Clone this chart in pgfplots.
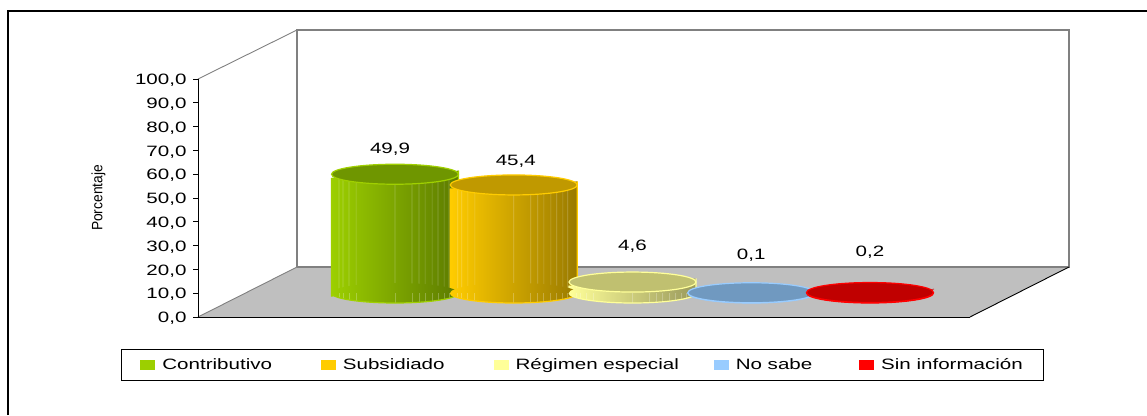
\documentclass[border=0pt]{standalone}
\usepackage{fontspec}
\setmainfont[FakeStretch=1.37]{Liberation Sans}
\newfontfamily\ylabfont[FakeStretch=0.92]{Liberation Sans}
\usepackage{pgfplots}
\usepackage{pgfplotstable}
\pgfplotsset{compat=1.18}

\definecolor{gL}{HTML}{9CCF00}\definecolor{gR}{HTML}{5C7A00}\definecolor{gT}{HTML}{6F9600}\definecolor{gE}{HTML}{A0D000}
\definecolor{oL}{HTML}{FFCC00}\definecolor{oR}{HTML}{997A00}\definecolor{oT}{HTML}{C09900}\definecolor{oE}{HTML}{FFCC00}
\definecolor{yL}{HTML}{FFFF99}\definecolor{yR}{HTML}{99995C}\definecolor{yT}{HTML}{C0C070}\definecolor{yE}{HTML}{FFFF99}
\definecolor{bL}{HTML}{99CCFF}\definecolor{bR}{HTML}{5C7A99}\definecolor{bT}{HTML}{7099C0}\definecolor{bE}{HTML}{99CCFF}
\definecolor{rL}{HTML}{FF0000}\definecolor{rR}{HTML}{990000}\definecolor{rT}{HTML}{C00000}\definecolor{rE}{HTML}{FF0000}

% cylinder ends, drawn as plot marks
\newcommand{\newcylmarks}[1]{%
  \pgfdeclareplotmark{cylbot#1}{%
    \shade[draw=none, rotate=3.2, left color=#1L, right color=#1R] (0pt,0pt) ellipse [x radius=63.5pt, y radius=10pt];
    \foreach \dx in {-56,-52,-46,-39,0,17,24,30,37,43,49,54}
      \draw[rotate=3.2, white, opacity=.25, line width=.6pt] (\dx pt,0pt) -- ({\dx*1pt},{-10pt*sqrt(1-(\dx/63.5)^2)});
    \draw[rotate=3.2, #1E, line width=1.2pt] (-63.5pt,0pt) arc [start angle=180, end angle=360, x radius=63.5pt, y radius=10pt];
  }%
  \pgfdeclareplotmark{cyltop#1}{%
    \filldraw[rotate=3.2, fill=#1T, draw=#1E, line width=1.2pt] (0pt,0pt) ellipse [x radius=63.5pt, y radius=10pt];
  }%
}
\newcylmarks{g}\newcylmarks{o}\newcylmarks{y}\newcylmarks{b}\newcylmarks{r}

\pgfplotstableread{
dx n
-0.472 1
-0.438 2
-0.387 3
-0.328 4
0 5
0.143 6
0.202 7
0.253 8
0.312 9
0.362 10
0.413 11
0.455 12
}\stripes

% #1 category, #2 value, #3 centre in px, #4 colour prefix, #5 label dx, #6 label dy
\newcommand{\cylinder}[6]{%
  \addplot[only marks, mark=cylbot#4, mark options={draw=none}, yshift=24pt, forget plot] coordinates {(#1,0)};
  \addplot[ybar, bar width=127pt, draw=none, shade, left color=#4L, right color=#4R,
    yslant=0.056, yshift={(24-0.056*(#3-198))*1pt}, forget plot] coordinates {(#1,#2)};
  \addplot[ybar, bar width=.6pt, draw=none, fill=white, fill opacity=.25,
    yslant=0.056, yshift={(24-0.056*(#3-198))*1pt}, forget plot]
    table[x expr=#1+\thisrow{dx}, y expr=#2] {\stripes};
  \addplot[ybar, bar width=1.2pt, draw=none, fill=#4E,
    yslant=0.056, yshift={(24-0.056*(#3-198))*1pt}, forget plot]
    coordinates {(#1-0.535,#2) (#1+0.535,#2)};
  \addplot[only marks, mark=cyltop#4, yshift=24pt, forget plot,
    nodes near coords, point meta=y,
    every node near coord/.style={anchor=center, xshift=#5pt, yshift=#6pt, text=black, font=\fontsize{15}{15}\selectfont,
      /pgf/number format/.cd, fixed, fixed zerofill, precision=1, use comma, assume math mode=true}]
    coordinates {(#1,#2)};
}

\begin{document}
\begin{tikzpicture}
\path[use as bounding box] (0,0) rectangle (1147pt,415pt);
\draw[black, line width=2pt] (8pt,0pt) -- (8pt,404pt) -- (1147pt,404pt);
% floor and walls of the 3D box
\fill[fill=black!25] (198pt,98pt) -- (297pt,148pt) -- (1069pt,148pt) -- (970pt,98pt) -- cycle;
\draw[black!50, line width=1.4pt] (297pt,148pt) -- (297pt,385pt) -- (1069pt,385pt) -- (1069pt,148pt) -- (297pt,148pt);
\draw[black!50, line width=.9pt] (198pt,98pt) -- (297pt,148pt) (198pt,336pt) -- (297pt,385pt);
\draw[black, line width=.9pt] (970pt,98pt) -- (1069pt,148pt);

\pgfplotsset{lgd/.style={legend image code/.code={\fill[#1] (0pt,-4.5pt) rectangle (14pt,4.5pt);}}}

\begin{axis}[
  at={(198pt,98pt)}, anchor=south west,
  scale only axis, width=772pt, height=238pt,
  clip=false,
  xmin=-0.6589, xmax=5.842, ymin=0, ymax=100,
  axis lines=left, axis line style={-, black, line width=.9pt},
  xtick=\empty,
  ytick={0,10,...,100},
  tick style={black, line width=.9pt},
  major tick length=5pt,
  tick align=outside,
  yticklabel style={font=\fontsize{15}{15}\selectfont, xshift=-3pt, yshift=-1.5pt, /pgf/number format/.cd, fixed, fixed zerofill, precision=1, use comma, assume math mode=true},
  ylabel={\ylabfont\fontsize{15}{15}\selectfont Porcentaje},
  ylabel style={at={(axis description cs:-0.129,0.5)}, anchor=center, rotate=0},
  legend columns=5,
  legend cell align=left,
  legend style={at={(axis description cs:-0.0997,-0.1345)}, anchor=north west,
    draw=black, line width=.9pt, inner xsep=19pt, inner ysep=7pt,
    font=\fontsize{15}{15}\selectfont,
    /tikz/every odd column/.append style={column sep=5pt},
    /tikz/column 2/.style={column sep=47pt},
    /tikz/column 4/.style={column sep=47pt},
    /tikz/column 6/.style={column sep=33pt},
    /tikz/column 8/.style={column sep=45pt}},
]
\addlegendimage{lgd=gL}
\addlegendimage{lgd=oL}
\addlegendimage{lgd=yL}
\addlegendimage{lgd=bL}
\addlegendimage{lgd=rL}

\cylinder{1}{49.9}{395}{g}{-5}{25.5}
\cylinder{2}{45.4}{514}{o}{2}{24}
\cylinder{3}{4.6}{632.5}{y}{0}{36}
\cylinder{4}{0.1}{751}{b}{0}{38}
\cylinder{5}{0.2}{870}{r}{0}{40}

\legend{Contributivo, Subsidiado, Régimen especial, No sabe, Sin información}
\end{axis}
\end{tikzpicture}
\end{document}
